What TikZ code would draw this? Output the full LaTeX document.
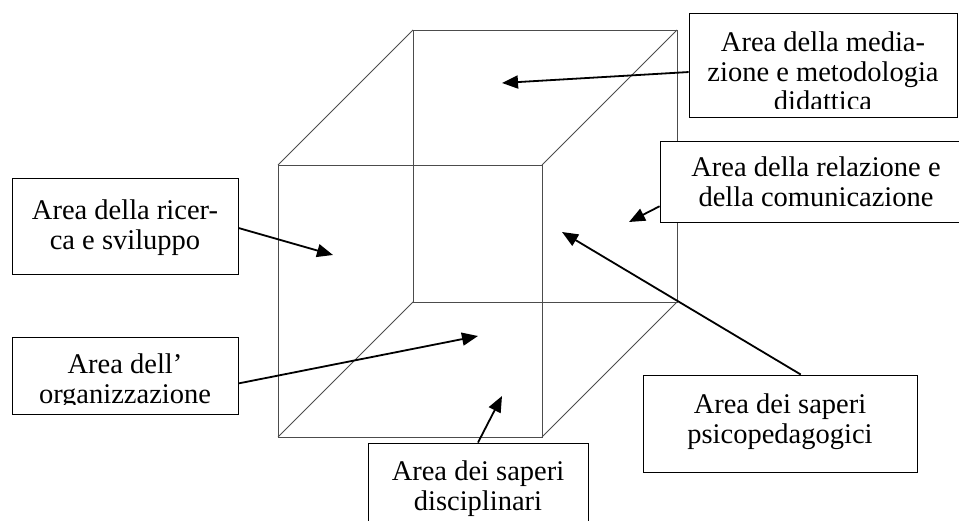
\documentclass[tikz,border=0pt]{standalone}
\usepackage{fontspec}
\setmainfont{Liberation Serif}
\usetikzlibrary{arrows.meta}

\begin{document}
\begin{tikzpicture}[x=1pt,y=-1pt,every node/.style={font=\fontsize{28.5}{29.5}\selectfont},
  cubeline/.style={draw=black!70,line width=.8pt},
  areabox/.style={draw,fill=white,line width=.9pt,inner sep=0pt},
  areatext/.style={anchor=north,align=center,inner sep=0pt},
  pointer/.style={line width=1.8pt,-{Triangle[length=16pt,width=13pt]}}]
\path[use as bounding box,clip] (0,0) rectangle (959,521);
% cube
\coordinate (f1) at (278,165);
\coordinate (f2) at (542,165);
\coordinate (f3) at (542,437);
\coordinate (f4) at (278,437);
\coordinate (b1) at (413,30);
\coordinate (b2) at (677,30);
\coordinate (b3) at (677,302);
\coordinate (b4) at (413,302);
\draw[cubeline] (f1)--(f2)--(f3)--(f4)--cycle;
\draw[cubeline] (b1)--(b2)--(b3)--(b4)--cycle;
\draw[cubeline] (f1)--(b1) (f2)--(b2) (f3)--(b3) (f4)--(b4);
% boxes
\node[areabox,minimum width=268pt,minimum height=104pt] (med) at (823,65) {};
\begin{scope}
\clip (med.north west) rectangle ([yshift=9pt]med.south east);
\node[areatext] (medtext) at (823,32) {Area della media-\\zione e metodologia\\didattica};
\end{scope}
\node[areabox,minimum width=312pt,minimum height=81pt] (rel) at (816,181.5) {};
\node[areatext] (reltext) at (816,157) {Area della relazione e\\della comunicazione};
\node[areabox,minimum width=226pt,minimum height=96pt] (ric) at (125,226) {};
\node[areatext] (rictext) at (125,200) {Area della ricer-\\ca e sviluppo};
\node[areabox,minimum width=226pt,minimum height=77pt] (org) at (125,375.5) {};
\begin{scope}
\clip (org.north west) rectangle ([yshift=10pt]org.south east);
\node[areatext] (orgtext) at (125,354) {Area dell'\\organizzazione};
\end{scope}
\node[areabox,minimum width=220pt,minimum height=100pt] (dis) at (478,493) {};
\node[areatext] (distext) at (478,461) {Area dei saperi\\disciplinari};
\node[areabox,minimum width=274pt,minimum height=97pt] (psi) at (780,423.5) {};
\node[areatext] (psitext) at (780,394) {Area dei saperi\\psicopedagogici};
% arrows
\coordinate (medtip) at (502,83);
\coordinate (reltip) at (629,222);
\coordinate (rictip) at (333,255);
\coordinate (orgtip) at (478,336);
\coordinate (distip) at (502,396);
\coordinate (psitip) at (562,232);
\draw[pointer] (med.183)--(medtip);
\draw[pointer] (rel.189.3)--(reltip);
\draw[pointer] (ric.-1.5)--(rictip);
\draw[pointer] (org.-4.8)--(orgtip);
\draw[pointer] (dis.north)--(distip);
\draw[pointer] (psi.67.2)--(psitip);
\end{tikzpicture}
\end{document}
